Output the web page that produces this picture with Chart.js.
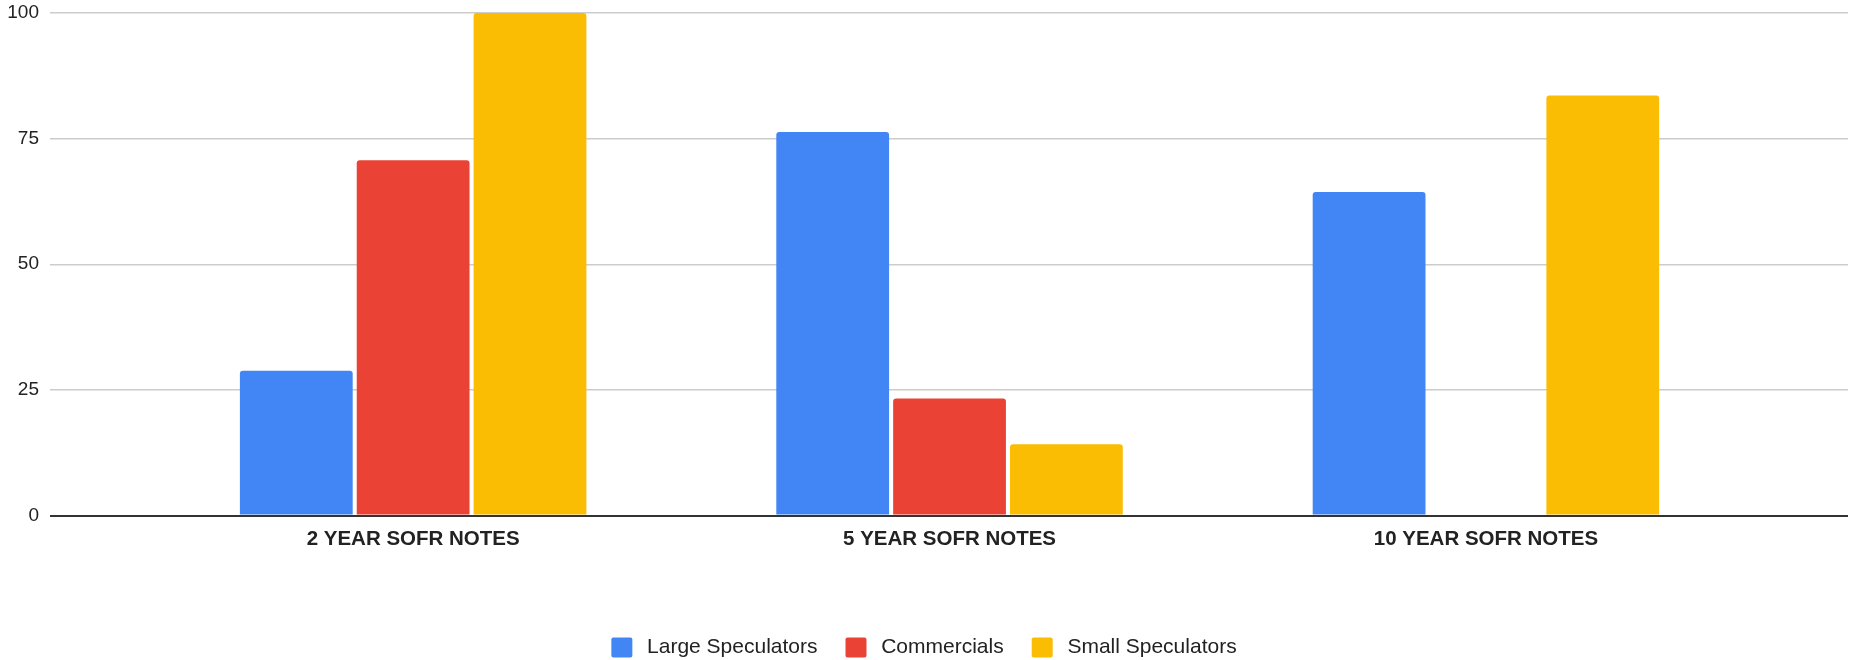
<!DOCTYPE html>
<html>
<head>
<meta charset="utf-8">
<title>SOFR Notes positioning</title>
<script src="https://cdn.jsdelivr.net/npm/chart.js@4.4.0/dist/chart.umd.min.js"></script>
<style>
  html, body { margin: 0; padding: 0; background: #fff; }
  #wrap { position: relative; width: 1849px; height: 660px; }
</style>
</head>
<body>
<div id="wrap"><canvas id="cotChart"></canvas></div>
<script>
// values
const categories = ['2 YEAR SOFR NOTES', '5 YEAR SOFR NOTES', '10 YEAR SOFR NOTES'];
const largeSpeculators = [28.8, 76.3, 64.4];
const commercials = [70.7, 23.3, null];
const smallSpeculators = [100, 14.2, 83.6];
const yTicks = [0, 25, 50, 75, 100];

const colors = {
  large: '#4285f4',
  commercial: '#ea4335',
  small: '#fbbc04'
};

Chart.defaults.font.family = '"Liberation Sans", Arial, sans-serif';

// bars sit on a linear x axis so the groups can keep the
// wide outer margins the reference has
function toPoints(values) {
  return values.map((v, i) => ({ x: i, y: v }));
}

function makeDataset(label, values, color) {
  return {
    label: label,
    data: toPoints(values),
    backgroundColor: color,
    borderWidth: 0,
    borderRadius: 3,
    categoryPercentage: 0.6535,
    barPercentage: 0.9653
  };
}

new Chart(document.getElementById('cotChart'), {
  type: 'bar',
  data: {
    datasets: [
      makeDataset('Large Speculators', largeSpeculators, colors.large),
      makeDataset('Commercials', commercials, colors.commercial),
      makeDataset('Small Speculators', smallSpeculators, colors.small)
    ]
  },
  options: {
    responsive: true,
    maintainAspectRatio: false,
    animation: false,
    layout: {
      padding: { top: 13, right: 1, bottom: -8, left: 0 }
    },
    plugins: {
      legend: {
        position: 'bottom',
        labels: {
          boxWidth: 21,
          boxHeight: 20,
          padding: 28,
          useBorderRadius: true,
          borderRadius: 2,
          color: '#222',
          font: { size: 21 },
          // thin space widens the gap between swatch and text a bit
          generateLabels: (chart) => {
            const items = Chart.defaults.plugins.legend.labels.generateLabels(chart);
            items.forEach(it => { it.text = '\u2009' + it.text; });
            return items;
          }
        }
      },
      tooltip: { enabled: false }
    },
    scales: {
      x: {
        type: 'linear',
        min: -0.677,
        max: 2.675,
        offset: false,
        grid: { display: false, drawTicks: false },
        border: { display: false },
        afterBuildTicks: (scale) => {
          scale.ticks = categories.map((c, i) => ({ value: i }));
        },
        afterFit: (scale) => {
          scale.height = 93.5;
        },
        ticks: {
          autoSkip: false,
          maxRotation: 0,
          padding: 12,
          color: '#222',
          font: { size: 20.5, weight: 'bold' },
          callback: (value) => categories[value]
        }
      },
      y: {
        min: 0,
        max: 100,
        afterBuildTicks: (scale) => {
          scale.ticks = yTicks.map(v => ({ value: v }));
        },
        afterFit: (scale) => {
          scale.width = 50;
        },
        border: { display: false },
        grid: {
          drawTicks: true,
          tickLength: 11,
          tickColor: 'rgba(0,0,0,0)',
          color: (ctx) => ctx.tick.value === 0 ? '#333' : '#cccccc',
          lineWidth: (ctx) => ctx.tick.value === 0 ? 2 : 1.5
        },
        ticks: {
          padding: 0,
          color: '#222',
          font: { size: 19 }
        }
      }
    }
  }
});
</script>
</body>
</html>
